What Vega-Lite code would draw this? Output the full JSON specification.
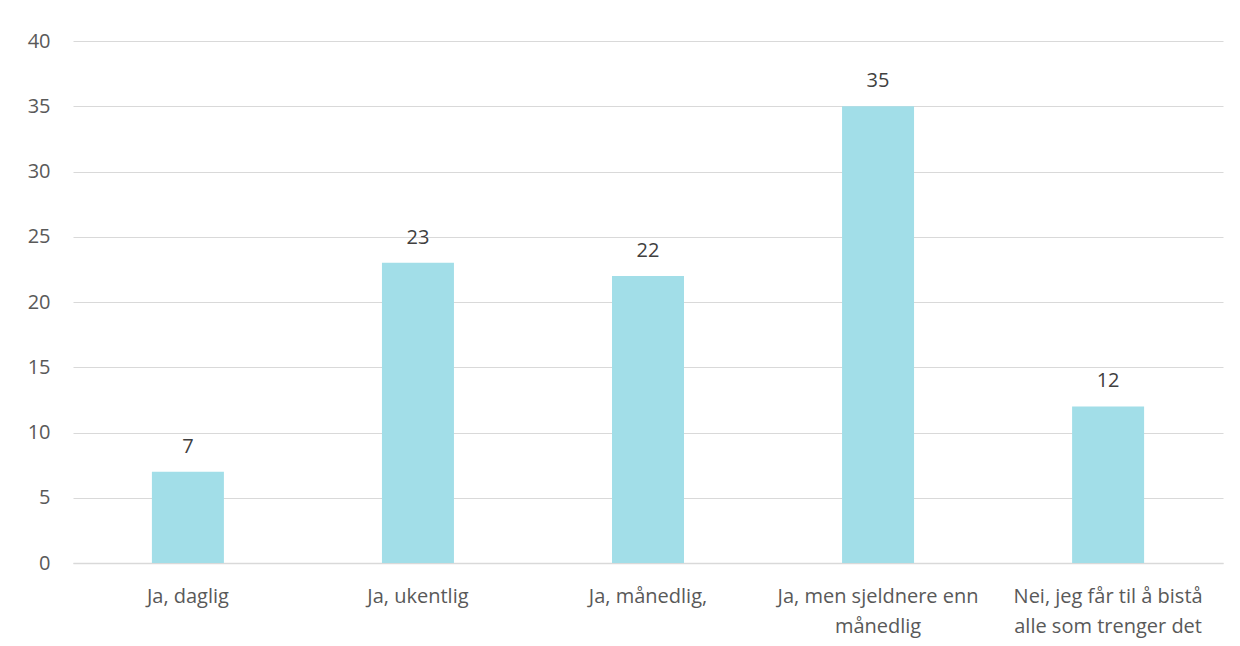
{
  "$schema": "https://vega.github.io/schema/vega-lite/v6.json",
  "width": 1150,
  "height": 522,
  "autosize": {"type": "none"},
  "padding": {"left": 73, "top": 41, "right": 17, "bottom": 83},
  "background": "white",
  "config": {"view": {"stroke": null}, "font": "Open Sans"},
  "data": {
    "values": [
      {"kategori": "Ja, daglig", "antall": 7},
      {"kategori": "Ja, ukentlig", "antall": 23},
      {"kategori": "Ja, månedlig,", "antall": 22},
      {"kategori": "Ja, men sjeldnere enn månedlig", "antall": 35},
      {"kategori": "Nei, jeg får til å bistå alle som trenger det", "antall": 12}
    ]
  },
  "encoding": {
    "x": {
      "field": "kategori",
      "type": "nominal",
      "sort": null,
      "scale": {"paddingInner": 0.687, "paddingOuter": 0.343},
      "axis": {
        "title": null,
        "labelAngle": 0,
        "domain": true,
        "domainColor": "#d9d9d9",
        "domainWidth": 1.5,
        "ticks": false,
        "labelPadding": 23,
        "labelFontSize": 20,
        "labelColor": "#595959",
        "labelLineHeight": 30,
        "labelBaseline": "top",
        "labelLimit": 0,
        "labelOverlap": false,
        "labelExpr": "datum.value == 'Ja, men sjeldnere enn månedlig' ? ['Ja, men sjeldnere enn', 'månedlig'] : datum.value == 'Nei, jeg får til å bistå alle som trenger det' ? ['Nei, jeg får til å bistå', 'alle som trenger det'] : datum.value"
      }
    },
    "y": {
      "field": "antall",
      "type": "quantitative",
      "scale": {"domain": [0, 40], "nice": false},
      "axis": {
        "title": null,
        "values": [0, 5, 10, 15, 20, 25, 30, 35, 40],
        "domain": false,
        "ticks": false,
        "labelPadding": 23,
        "labelFontSize": 20,
        "labelColor": "#595959",
        "gridColor": "#d9d9d9",
        "gridWidth": 1.2
      }
    }
  },
  "layer": [
    {"mark": {"type": "bar", "color": "#a2dee8"}},
    {
      "mark": {"type": "text", "dy": -19, "baseline": "alphabetic", "fontSize": 20, "color": "#404040"},
      "encoding": {"text": {"field": "antall", "type": "quantitative"}}
    }
  ]
}
